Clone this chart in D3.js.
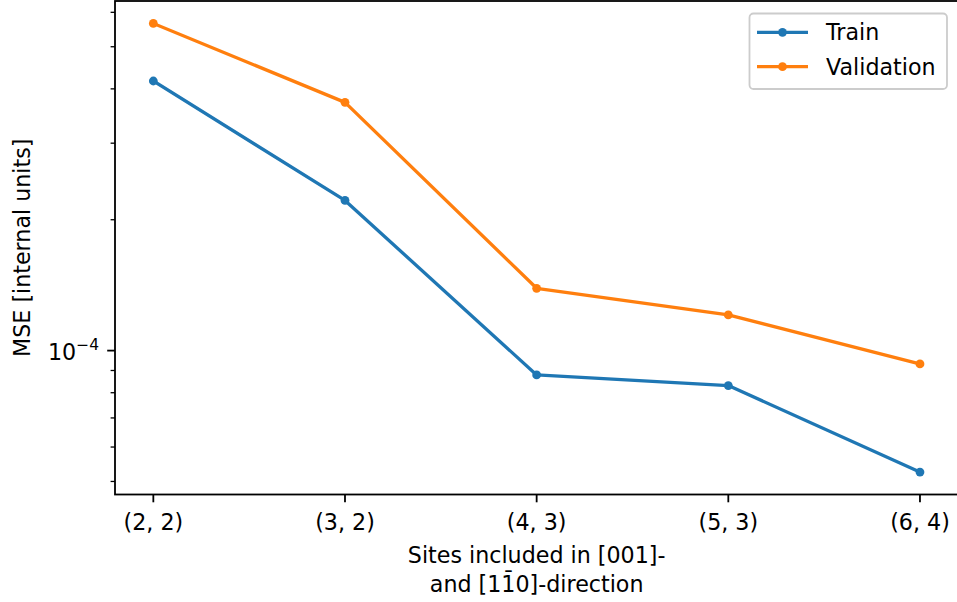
<!DOCTYPE html>
<html>
<head>
<meta charset="utf-8">
<script src="https://cdn.jsdelivr.net/npm/d3@7"></script>
<style>
  body { margin: 0; background: #fff; }
  svg { display: block; font-family: "DejaVu Sans", sans-serif; }
</style>
</head>
<body>
<svg width="957" height="602"></svg>
<script>
// data
var categories = ["(2, 2)", "(3, 2)", "(4, 3)", "(5, 3)", "(6, 4)"];
var trainMse = [4.17e-4, 2.215e-4, 8.79e-5, 8.31e-5, 5.255e-5];
var validationMse = [5.657e-4, 3.724e-4, 1.391e-4, 1.208e-4, 9.32e-5];
var seriesNames = ["Train", "Validation"];
var seriesColors = ["#1f77b4", "#ff7f0e"];
var minorTicks = [5e-5, 6e-5, 7e-5, 8e-5, 9e-5, 2e-4, 3e-4, 4e-4, 5e-4, 6e-4];

var svg = d3.select("svg"),
    width = +svg.attr("width"),
    height = +svg.attr("height");

// plot box (right edge sits just past the page, like the reference)
var pLeft = 115, pRight = 958.3, pTop = 1, pBottom = 494.5;
var fs = 22.2;

// matplotlib style 5% margins (log space for y)
var x = d3.scaleLinear()
    .domain([-0.2, categories.length - 1 + 0.2])
    .range([pLeft, pRight]);

var all = trainMse.concat(validationMse);
var lmin = Math.log10(d3.min(all)), lmax = Math.log10(d3.max(all));
var pad = (lmax - lmin) * 0.05;
var y = d3.scaleLog()
    .domain([Math.pow(10, lmin - pad), Math.pow(10, lmax + pad)])
    .range([pBottom, pTop]);

// minor y ticks
svg.append("g").selectAll("line")
  .data(minorTicks)
  .enter().append("line")
    .attr("x1", pLeft - 4.4).attr("x2", pLeft)
    .attr("y1", function(d) { return y(d); })
    .attr("y2", function(d) { return y(d); })
    .attr("stroke", "#000").attr("stroke-width", 1.3);

// major y tick 1e-4
svg.append("line")
    .attr("x1", pLeft - 7.8).attr("x2", pLeft)
    .attr("y1", y(1e-4)).attr("y2", y(1e-4))
    .attr("stroke", "#000").attr("stroke-width", 1.8);

var yl = svg.append("text")
    .attr("x", 99).attr("y", y(1e-4) + 9)
    .attr("text-anchor", "end")
    .attr("font-size", fs);
yl.append("tspan").text("10");
yl.append("tspan").attr("font-size", 15.5).attr("dy", -10).text("\u22124");

// x ticks
var xt = svg.append("g").selectAll("g")
  .data(categories)
  .enter().append("g")
    .attr("transform", function(d, i) { return "translate(" + x(i) + ",0)"; });
xt.append("line")
    .attr("y1", pBottom).attr("y2", pBottom + 7.8)
    .attr("stroke", "#000").attr("stroke-width", 1.8);
xt.append("text")
    .attr("y", 530)
    .attr("text-anchor", "middle")
    .attr("font-size", fs)
    .text(function(d) { return d; });

// axis labels
svg.append("text")
    .attr("x", (pLeft + pRight) / 2).attr("y", 563)
    .attr("text-anchor", "middle").attr("font-size", fs)
    .text("Sites included in [001]-");
svg.append("text")
    .attr("x", (pLeft + pRight) / 2).attr("y", 592)
    .attr("text-anchor", "middle").attr("font-size", fs)
    .text("and [11\u03040]-direction");
svg.append("text")
    .attr("transform", "translate(30," + (pTop + pBottom) / 2 + ") rotate(-90)")
    .attr("text-anchor", "middle").attr("font-size", fs)
    .text("MSE [internal units]");

// lines
var series = [trainMse, validationMse];
var line = d3.line()
    .x(function(d, i) { return x(i); })
    .y(function(d) { return y(d); });

series.forEach(function(vals, k) {
  svg.append("path")
      .datum(vals)
      .attr("d", line)
      .attr("fill", "none")
      .attr("stroke", seriesColors[k])
      .attr("stroke-width", 3.3)
      .attr("stroke-linejoin", "round")
      .attr("stroke-linecap", "square");
  svg.append("g").selectAll("circle")
    .data(vals)
    .enter().append("circle")
      .attr("cx", function(d, i) { return x(i); })
      .attr("cy", function(d) { return y(d); })
      .attr("r", 4.4)
      .attr("fill", seriesColors[k]);
});

// frame
svg.append("rect")
    .attr("x", pLeft).attr("y", pTop)
    .attr("width", pRight - pLeft).attr("height", pBottom - pTop)
    .attr("fill", "none").attr("stroke", "#000").attr("stroke-width", 1.8);

// legend
var lg = svg.append("g");
lg.append("rect")
    .attr("x", 749.5).attr("y", 13.5)
    .attr("width", 197.5).attr("height", 75.5)
    .attr("rx", 4)
    .attr("fill", "#fff").attr("fill-opacity", 0.8)
    .attr("stroke", "#cccccc").attr("stroke-width", 1.8);
var rows = lg.selectAll("g.row")
  .data(seriesNames)
  .enter().append("g")
    .attr("class", "row")
    .attr("transform", function(d, i) { return "translate(0," + (32.3 + i * 34.4) + ")"; });
rows.append("line")
    .attr("x1", 757).attr("x2", 808)
    .attr("stroke", function(d, i) { return seriesColors[i]; })
    .attr("stroke-width", 3.3);
rows.append("circle")
    .attr("cx", 782.5).attr("r", 4.4)
    .attr("fill", function(d, i) { return seriesColors[i]; });
rows.append("text")
    .attr("x", 826).attr("y", 8)
    .attr("font-size", fs)
    .text(function(d) { return d; });
</script>
</body>
</html>
